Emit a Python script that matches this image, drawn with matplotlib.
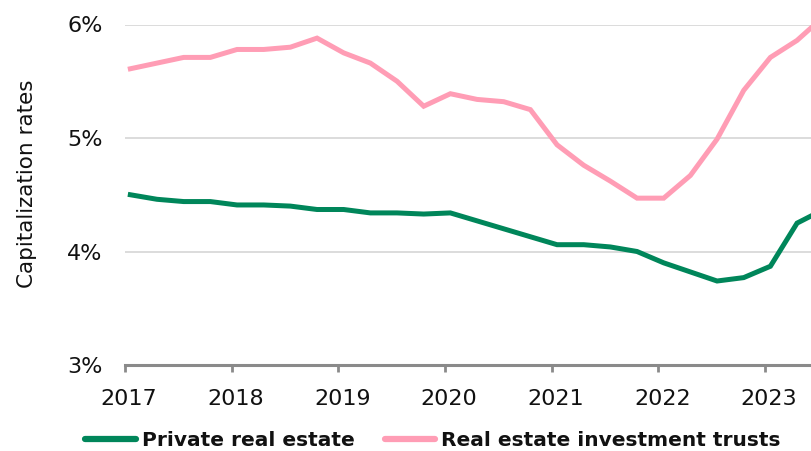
import numpy as np
import matplotlib
matplotlib.use("Agg")
import matplotlib.pyplot as plt
import matplotlib.transforms as mtransforms

# quarterly observations, starting early 2017 (last one sits past the right edge)
quarters = 2017.05 + 0.25 * np.arange(28)

reit_caps = [
    5.61, 5.66, 5.71, 5.71, 5.78, 5.78, 5.80, 5.88, 5.75, 5.66,
    5.50, 5.28, 5.39, 5.34, 5.32, 5.25, 4.94, 4.76, 4.62, 4.47,
    4.47, 4.67, 4.99, 5.42, 5.71, 5.86, 6.07, 6.15,
]
private_caps = [
    4.50, 4.46, 4.44, 4.44, 4.41, 4.41, 4.40, 4.37, 4.37, 4.34,
    4.34, 4.33, 4.34, 4.27, 4.20, 4.13, 4.06, 4.06, 4.04, 4.00,
    3.90, 3.82, 3.74, 3.77, 3.87, 4.25, 4.37, 4.42,
]

year_ticks = [2017, 2018, 2019, 2020, 2021, 2022, 2023]
pct_ticks = [3, 4, 5, 6]

GREEN = "#00865a"
PINK = "#ff9db5"

plt.rcParams["font.family"] = ["DejaVu Sans"]

fig = plt.figure(figsize=(8.12, 4.51), dpi=100)
ax = fig.add_axes([125 / 812, 1 - 365 / 451, 1 - 125 / 812, (365 - 24.5) / 451])

ax.plot(quarters, private_caps, color=GREEN, lw=3.6, solid_joinstyle="miter",
        label="Private real estate", zorder=3)
ax.plot(quarters, reit_caps, color=PINK, lw=3.6, solid_joinstyle="miter",
        label="Real estate investment trusts", zorder=3)

ax.set_xlim(2017, 2023.44)
ax.set_ylim(3, 6)
ax.set_xticks(year_ticks)
ax.set_xticklabels([str(y) for y in year_ticks])
ax.set_yticks(pct_ticks)
ax.set_yticklabels([f"{p}%" for p in pct_ticks])

ax.grid(axis="y", color="#d9d9d9", lw=1.3, zorder=0)
ax.set_axisbelow(True)
for side in ["left", "right", "top"]:
    ax.spines[side].set_visible(False)
ax.spines["bottom"].set_color("#8a8a8a")
ax.spines["bottom"].set_linewidth(2.2)

ax.tick_params(axis="x", direction="out", length=5, width=2, color="#8a8a8a",
               labelsize=16, labelcolor="#111111", pad=12)
ax.tick_params(axis="y", length=0, labelsize=16, labelcolor="#111111", pad=16)

# year labels sit a touch right of their ticks in the original
shift = mtransforms.ScaledTranslation(4 / 100, 0, fig.dpi_scale_trans)
for lbl in ax.get_xticklabels():
    lbl.set_transform(lbl.get_transform() + shift)

ax.set_ylabel("Capitalization rates", fontsize=15.5, color="#111111")
ax.yaxis.set_label_coords(-0.128, 0.532)

leg = fig.legend(loc="center", bbox_to_anchor=(433 / 812, 1 - 441 / 451), ncol=2,
                 frameon=False, fontsize=14.5, handlelength=2.5, handletextpad=0.3,
                 columnspacing=1.5, borderaxespad=0)
for t in leg.get_texts():
    t.set_fontweight("bold")
    t.set_color("#111111")
for h in leg.get_lines():
    h.set_linewidth(4.5)
    h.set_solid_capstyle("round")

fig.savefig("out.png", dpi=100)
